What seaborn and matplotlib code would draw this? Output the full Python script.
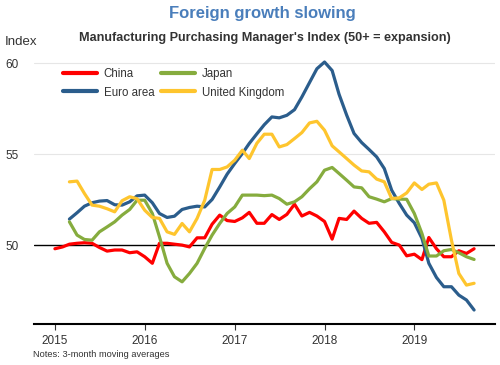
import numpy as np
import pandas as pd
import matplotlib
matplotlib.use("Agg")
import matplotlib.pyplot as plt
import seaborn as sns

months = pd.date_range("2015-01-01", periods=57, freq="MS")

china = [49.8, 49.9, 50.05, 50.1, 50.13, 50.1, 49.87, 49.67, 49.73, 49.73, 49.58, 49.63,
         49.36, 49.0, 50.1, 50.1, 50.05, 50.0, 49.9, 50.4, 50.4, 51.15, 51.65, 51.35,
         51.3, 51.5, 51.8, 51.2, 51.2, 51.68, 51.41, 51.69, 52.25, 51.6, 51.8, 51.6,
         51.3, 50.33, 51.47, 51.41, 51.87, 51.47, 51.2, 51.25, 50.73, 50.15, 50.0, 49.41,
         49.5, 49.2, 50.42, 49.8, 49.36, 49.36, 49.69, 49.54, 49.8]

euro = [None, None, 51.43, 51.78, 52.14, 52.33, 52.42, 52.45, 52.22, 52.2, 52.38, 52.71,
        52.75, 52.33, 51.74, 51.52, 51.59, 51.96, 52.07, 52.14, 52.1, 52.51, 53.2, 53.9,
        54.49, 55.04, 55.59, 56.12, 56.62, 57.05, 57.0, 57.14, 57.45, 58.15, 58.94, 59.7,
        60.07, 59.6, 58.3, 57.15, 56.14, 55.64, 55.26, 54.85, 54.21, 53.02, 52.29, 51.65,
        51.23, 50.37, 49.0, 48.22, 47.71, 47.71, 47.25, 46.98, 46.43]

japan = [None, None, 51.28, 50.55, 50.31, 50.27, 50.73, 51.0, 51.28, 51.65, 51.96, 52.47,
         52.47, 51.74, 50.46, 49.0, 48.26, 47.98, 48.44, 49.0, 49.82, 50.55, 51.19, 51.74,
         52.1, 52.75, 52.75, 52.75, 52.72, 52.75, 52.56, 52.25, 52.38, 52.66, 53.1, 53.48,
         54.12, 54.27, 53.94, 53.57, 53.2, 53.15, 52.66, 52.53, 52.38, 52.56, 52.53, 52.52,
         51.74, 50.64, 49.4, 49.4, 49.69, 49.76, 49.58, 49.36, 49.21]

uk = [None, None, 53.48, 53.52, 52.84, 52.2, 52.14, 52.0, 51.83, 52.44, 52.66, 52.55,
      51.92, 51.52, 51.47, 50.73, 50.59, 51.19, 50.73, 51.47, 52.47, 54.16, 54.16, 54.3,
      54.67, 55.22, 54.76, 55.6, 56.1, 56.1, 55.4, 55.53, 55.86, 56.19, 56.72, 56.81,
      56.32, 55.46, 55.13, 54.76, 54.4, 54.08, 54.03, 53.63, 53.48, 52.56, 52.6, 52.87,
      53.42, 53.06, 53.35, 53.42, 52.47, 50.27, 48.44, 47.8, 47.9]

series_names = ["China", "Euro area", "Japan", "United Kingdom"]
series_values = [china, euro, japan, uk]
colors = ["#FF0000", "#2B5D8C", "#86AC3E", "#FEC52E"]

yticks = [50, 55, 60]
xtick_years = [2015, 2016, 2017, 2018, 2019]

rows = []
for name, vals in zip(series_names, series_values):
    for m, v in zip(months, vals):
        if v is not None:
            rows.append({"month": m, "value": v, "series": name})
df = pd.DataFrame(rows)

sns.set_theme(style="white")
plt.rcParams["font.family"] = ["Liberation Sans", "DejaVu Sans"]

fig = plt.figure(figsize=(5.0, 3.65), dpi=100)
ax = fig.add_axes([0.068, 0.1123, 0.922, 0.7367])

ax.axhline(50, color="black", lw=1.0, zorder=1)
for yv in [55, 60]:
    ax.axhline(yv, color="#e6e6e6", lw=0.8, zorder=0)

sns.lineplot(data=df, x="month", y="value", hue="series", hue_order=series_names,
             palette=colors, linewidth=2.3, ax=ax, legend=True, zorder=3)

ax.set_ylim(45.66, 60.45)
ax.set_xlim(pd.Timestamp("2014-10-08"), pd.Timestamp("2019-11-25"))
ax.set_yticks(yticks)
ax.set_yticklabels([str(t) for t in yticks], fontsize=8.5, color="#333333")
ax.set_xticks([pd.Timestamp(f"{y}-01-01") for y in xtick_years])
ax.set_xticklabels([str(y) for y in xtick_years], fontsize=8.5, color="#333333")
ax.tick_params(axis="y", length=0, pad=11)
ax.tick_params(axis="x", length=4, width=0.8, color="#333333", direction="out", pad=4, bottom=True)
ax.set_xlabel("")
ax.set_ylabel("")
for s in ["left", "right", "top"]:
    ax.spines[s].set_visible(False)
ax.spines["bottom"].set_color("black")
ax.spines["bottom"].set_linewidth(1.5)

leg = ax.legend(ncol=2, loc="upper left", bbox_to_anchor=(0.04, 0.99), frameon=False,
                fontsize=8.3, handlelength=2.95, handletextpad=0.6, columnspacing=0.6,
                labelspacing=0.55, labelcolor="#333333")
for line in leg.get_lines():
    line.set_linewidth(3)

fig.text(0.524, 0.964, "Foreign growth slowing", ha="center", va="center",
         fontsize=12, fontweight="bold", color="#4A7EBB")
fig.text(0.53, 0.895, "Manufacturing Purchasing Manager's Index (50+ = expansion)",
         ha="center", va="center", fontsize=9.1, fontweight="bold", color="#333333")
fig.text(0.01, 0.885, "Index", ha="left", va="center", fontsize=9.5, color="#333333")
fig.text(0.066, 0.03, "Notes: 3-month moving averages", ha="left", va="center",
         fontsize=6.7, color="#333333")

fig.savefig("out.png", dpi=100)
